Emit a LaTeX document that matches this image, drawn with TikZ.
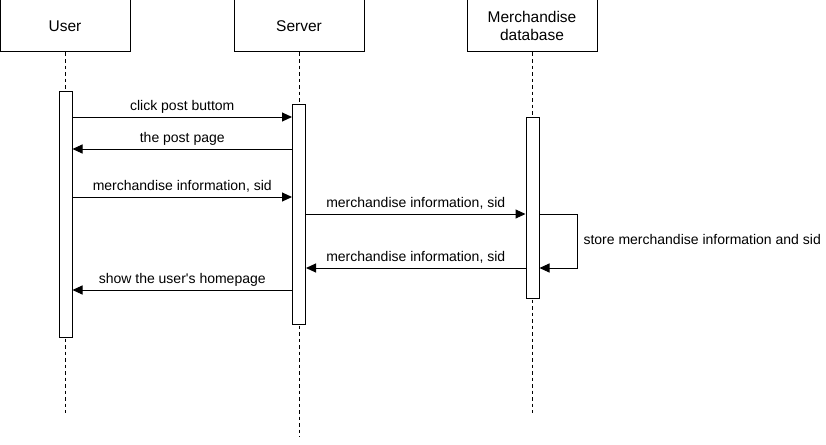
\documentclass[tikz,border=0pt]{standalone}
\usepackage{fontspec}
\setmainfont{Liberation Sans}
\usetikzlibrary{arrows.meta}
\tikzstyle{headBox}=[shape = rectangle, draw, line width = 1pt, minimum width = 130pt, minimum height = 52pt, inner sep = 0pt, align = center, font = \fontsize{15.5}{17.5}\selectfont]
\tikzstyle{actBar}=[shape = rectangle, draw, fill = white, line width = 1pt, minimum width = 13pt, inner sep = 0pt]
\tikzstyle{lifeLine}=[line width = 0.9pt, dash pattern = on 3.5pt off 3pt]
\tikzstyle{msgArrow}=[line width = 1pt, -{Triangle[length = 10pt, width = 9pt]}]
\tikzstyle{msgLabel}=[above, inner sep = 3pt, text height = 10pt, text depth = 3pt, font = \fontsize{14}{16}\selectfont]

\begin{document}
\begin{tikzpicture}[x = 1pt, y = -1pt]
\useasboundingbox (0,0) rectangle (826,444);
% Start heads
\node[headBox] (user) at (65,26) {User};
\node[headBox] (server) at (299,26) {Server};
\node[headBox] (merch) at (532,26) {Merchandise\\database};
% Start life lines
\coordinate (userEnd) at (65,413);
\coordinate (serverEnd) at (299,437);
\coordinate (merchEnd) at (532,413);
\draw[lifeLine] (user.south) -- (userEnd);
\draw[lifeLine] (server.south) -- (serverEnd);
\draw[lifeLine] (merch.south) -- (merchEnd);
% Start bars
\node[actBar, minimum height = 246pt] (userBar) at (65.5,214) {};
\node[actBar, minimum height = 220pt] (serverBar) at (299,214) {};
\node[actBar, minimum height = 181pt] (merchBar) at (532.5,207.5) {};
% Start messages
\coordinate (r1) at (0,117);
\coordinate (r2) at (0,149);
\coordinate (r3) at (0,197);
\coordinate (r4) at (0,214);
\coordinate (r5) at (0,268);
\coordinate (r6) at (0,290);
\coordinate (loopTop) at (577,214);
\coordinate (loopBot) at (577,268);
\draw[msgArrow] (userBar.east |- r1) -- node[msgLabel] {click post buttom} (serverBar.west |- r1);
\draw[msgArrow] (serverBar.west |- r2) -- node[msgLabel] {the post page} (userBar.east |- r2);
\draw[msgArrow] (userBar.east |- r3) -- node[msgLabel] {merchandise information, sid} (serverBar.west |- r3);
\draw[msgArrow] (serverBar.east |- r4) -- node[msgLabel] {merchandise information, sid} (merchBar.west |- r4);
\draw[msgArrow] (merchBar.east |- r4) -- (loopTop) -- node[msgLabel, above = 0pt, right, xshift = 3pt] {store merchandise information and sid} (loopBot) -- (merchBar.east |- r5);
\draw[msgArrow] (merchBar.west |- r5) -- node[msgLabel] {merchandise information, sid} (serverBar.east |- r5);
\draw[msgArrow] (serverBar.west |- r6) -- node[msgLabel] {show the user\textquotesingle s homepage} (userBar.east |- r6);
\end{tikzpicture}
\end{document}
